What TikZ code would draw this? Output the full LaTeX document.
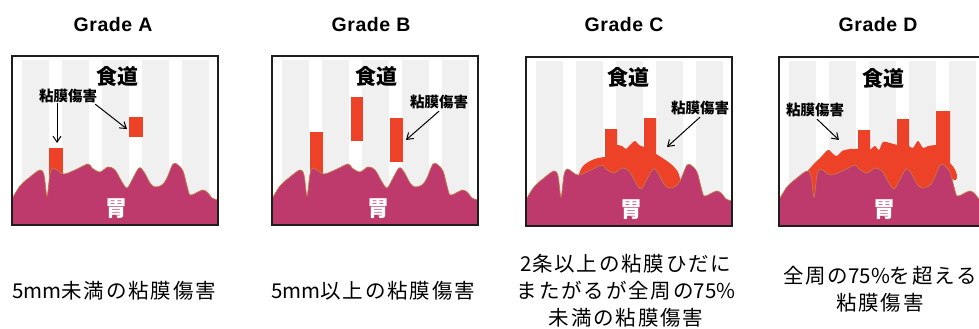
\documentclass[tikz,border=0pt]{standalone}
\usepackage{fontspec}
\usetikzlibrary{arrows.meta}
\newfontfamily\jpfont{Noto Sans CJK JP}
\newfontfamily\jpwide[LetterSpace=9]{Noto Sans CJK JP}
\newfontfamily\latinbold[LetterSpace=3]{Liberation Sans}
\newcommand\lat[1]{{\jpfont #1}}
\definecolor{stomach}{RGB}{190,58,108}
\definecolor{stomachedge}{RGB}{196,120,70}
\definecolor{lesion}{RGB}{238,66,40}
\definecolor{stripe}{RGB}{240,240,240}
\definecolor{framecol}{RGB}{30,30,30}
\tikzset{
  gradetitle/.style={font=\latinbold\bfseries\fontsize{19.5}{22}\selectfont, inner sep=0pt},
  organ/.style={font=\jpfont\bfseries\fontsize{21}{24}\selectfont, inner sep=0pt},
  organwhite/.style={font=\jpfont\bfseries\fontsize{22}{24}\selectfont, text=white, inner sep=0pt},
  lesionlabel/.style={font=\jpfont\bfseries\fontsize{14.5}{16}\selectfont, inner sep=0pt},
  captiontext/.style={font=\jpwide\fontsize{20.5}{27}\selectfont, align=center, inner sep=0pt},
  pointer/.style={-{Straight Barb[length=6pt,width=8pt]}, line width=1pt},
  panelframe/.style={draw=framecol, line width=1.6pt},
  lesionfill/.style={fill=lesion},
  % striped mucosa background of one panel
  mucosa/.pic={
    \fill[white] (0,0) rectangle (206,169);
    \foreach \s in {10,50,90,130,170} \fill[stripe] (\s,4) rectangle ++(27,165);
  },
  % wavy stomach wall at the bottom of one panel
  stomachwall/.pic={
    \filldraw[fill=stomach, draw=stomachedge, line width=0.7pt]
      plot[smooth, tension=0.55] coordinates {
        (0,143) (8,130) (18,121) (28,114) (32,119) (35,140) (38,118) (41,112)
        (45,114) (52,118) (63,114) (76,108) (80,112) (88,116) (96,111) (103,114)
        (110,126) (115,132) (120,124) (127,112) (132,116) (138,127) (143,131)
        (150,129) (155,122) (161,108) (166,109) (171,115) (175,130) (178,139)
        (184,137) (191,134) (196,137) (200,142) (206,144)}
      -- (206,169) -- (0,169) -- cycle;
  },
}
\begin{document}
\begin{tikzpicture}[x=1pt, y=-1pt]
\useasboundingbox (0,0) rectangle (979,329);
\clip (0,0) rectangle (979,329);

% titles
\node[gradetitle] (gA) at (113,25) {Grade A};
\node[gradetitle] (gB) at (371,25) {Grade B};
\node[gradetitle] (gC) at (624,25) {Grade C};
\node[gradetitle] (gD) at (878,25) {Grade D};

% Grade A
\begin{scope}[shift={(12,56)}]
  \pic {mucosa};
  \fill[lesionfill] (37,92) rectangle (51,125);
  \fill[lesionfill] (117,61) rectangle (131,81);
  \pic {stomachwall};
  \draw[panelframe] (0,0) rectangle (206,169);
  \node[organ] (esoA) at (105,20) {食道};
  \node[organwhite] (stomA) at (104,153) {胃};
  \node[lesionlabel] (lblA) at (56,40) {粘膜傷害};
  \coordinate (tipA1) at (45,87);
  \coordinate (tipA2) at (115,73);
  \draw[pointer] (lblA.south -| tipA1) -- (tipA1);
  \draw[pointer] ([xshift=-2pt,yshift=-1pt]lblA.south east) -- (tipA2);
\end{scope}

% Grade B
\begin{scope}[shift={(272,56)}]
  \pic {mucosa};
  \fill[lesionfill] (38,76) rectangle (51,125);
  \fill[lesionfill] (79,41) rectangle (91,85);
  \fill[lesionfill] (118,62) rectangle (131,106);
  \pic {stomachwall};
  \draw[panelframe] (0,0) rectangle (206,169);
  \node[organ] (esoB) at (104,20) {食道};
  \node[organwhite] (stomB) at (106,153) {胃};
  \node[lesionlabel] (lblB) at (167,46) {粘膜傷害};
  \coordinate (tipB) at (134,84);
  \draw[pointer] ([yshift=-2pt]lblB.south) -- (tipB);
\end{scope}

% Grade C
\begin{scope}[shift={(526,57)}]
  \pic {mucosa};
  \fill[lesionfill] (52,155)
    -- plot[smooth, tension=0.5] coordinates {(52,125) (53,117) (57,109) (64,104) (72,101) (79,100)}
    -- (79,72) -- (91,72)
    -- plot[smooth, tension=0.5] coordinates {(91,88) (96,89) (100,92) (104,88) (109,84) (113,88) (118,90)}
    -- (118,61) -- (130,61)
    -- plot[smooth, tension=0.5] coordinates {(130,97) (138,102) (146,108) (152,115) (154,123) (152,130) (147,134)}
    -- (140,155) -- cycle;
  \pic {stomachwall};
  \draw[panelframe] (0,0) rectangle (206,169);
  \node[organ] (esoC) at (102,20) {食道};
  \node[organwhite] (stomC) at (105,153) {胃};
  \node[lesionlabel] (lblC) at (174,51) {粘膜傷害};
  \coordinate (tipC) at (141,90);
  \draw[pointer] ([yshift=-2pt]lblC.south) -- (tipC);
\end{scope}

% Grade D
\begin{scope}[shift={(779,57)}]
  \pic {mucosa};
  \fill[lesionfill] (28,155)
    -- plot[smooth, tension=0.5] coordinates {(28,115) (33,109) (41,101) (49,93) (54,97) (58,99) (63,94) (71,92) (79,92)}
    -- (79,73) -- (91,73)
    -- plot[smooth, tension=0.5] coordinates {(91,93) (96,89) (100,93) (104,85) (111,86) (118,88)}
    -- (118,62) -- (130,62)
    -- plot[smooth, tension=0.5] coordinates {(130,89) (134,91) (139,84) (144,91) (149,89) (157,88)}
    -- (157,54) -- (171,54)
    -- plot[smooth, tension=0.5] coordinates {(171,106) (175,111) (178,118) (177,123) (173,122)}
    -- (165,155) -- cycle;
  \pic {stomachwall};
  \draw[panelframe] (0,0) rectangle (206,169);
  \node[organ] (esoD) at (104,21) {食道};
  \node[organwhite] (stomD) at (105,153) {胃};
  \node[lesionlabel] (lblD) at (36,53) {粘膜傷害};
  \coordinate (tipD) at (60,83);
  \draw[pointer] ([xshift=2pt,yshift=-2pt]lblD.south) -- (tipD);
\end{scope}

% criteria below each panel
\node[captiontext] (capA) at (114,291) {\lat{5mm}未満の粘膜傷害};
\node[captiontext] (capB) at (373,291) {\lat{5mm}以上の粘膜傷害};
\node[captiontext] (capC) at (626,291) {\lat{2}条以上の粘膜ひだに\\またがるが全周の\lat{75\%}\\未満の粘膜傷害};
\node[captiontext] (capD) at (880,289.5) {全周の\lat{75\%}を超える\\粘膜傷害};
\end{tikzpicture}
\end{document}
